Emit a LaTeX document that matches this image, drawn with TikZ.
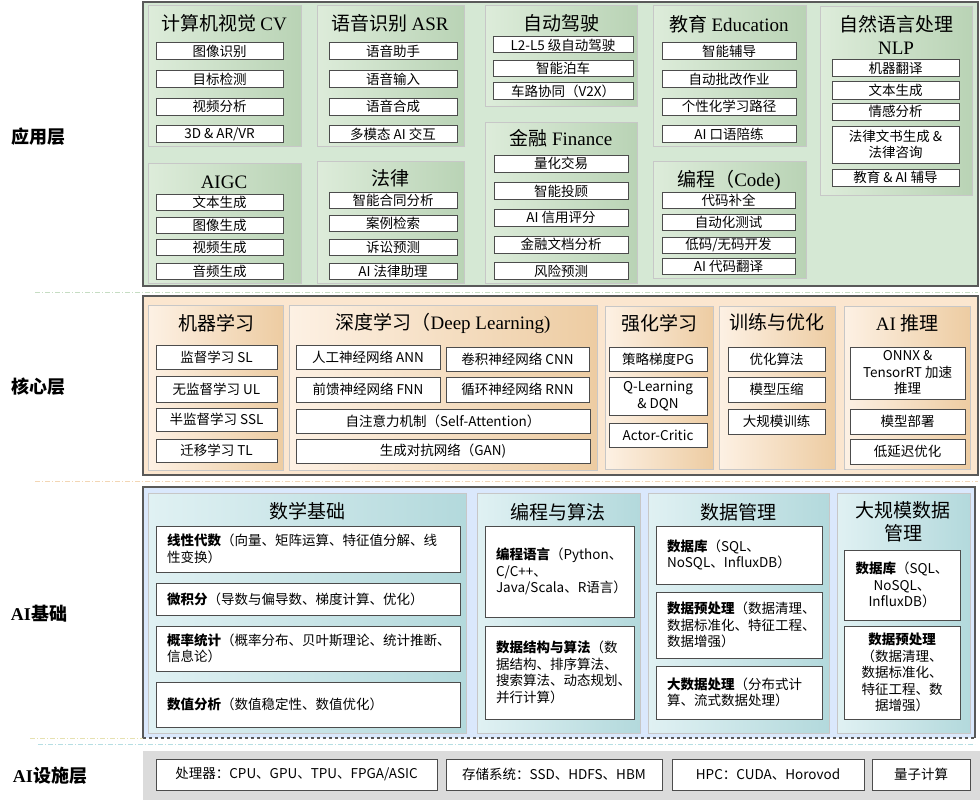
\documentclass[tikz,border=0pt]{standalone}
\usepackage{fontspec}
\setmainfont{Noto Sans CJK SC}
\newfontfamily\serifpart{Liberation Serif}
\newcommand\boxfont{\fontsize{13.5}{16.5}\selectfont}
\newcommand\grpfont{\fontsize{19}{23}\selectfont}
\newcommand\tagfont{\bfseries\fontsize{18}{20}\selectfont}
\definecolor{appbg}{HTML}{D5E8D4}
\definecolor{appL}{HTML}{DDECDA}
\definecolor{appR}{HTML}{B9D3B5}
\definecolor{corebg}{HTML}{FBE6CF}
\definecolor{coreL}{HTML}{FDF1E4}
\definecolor{coreR}{HTML}{EDCCA2}
\definecolor{fndbg}{HTML}{DAE8FC}
\definecolor{fndL}{HTML}{E0F1F3}
\definecolor{fndR}{HTML}{B3D9DC}
\definecolor{infrabg}{HTML}{DBDBDB}
\definecolor{appsep}{HTML}{C6DDC3}
\definecolor{coresep}{HTML}{F3D6B4}
\definecolor{fndsep}{HTML}{E6E1B0}
\definecolor{infsep}{HTML}{B5DEE3}
\begin{document}
\begin{tikzpicture}[x=1pt, y=-1pt,
  layer/.style={draw=black!65, line width=1.2pt},
  appgrp/.style={draw=black!22, line width=1pt, left color=appL, right color=appR},
  coregrp/.style={draw=black!22, line width=1pt, left color=coreL, right color=coreR},
  fndgrp/.style={draw=black!22, line width=1pt, left color=fndL, right color=fndR},
  item/.style={draw=black!70, fill=white, line width=1pt, inner sep=1pt, align=center, font=\boxfont},
  fnditem/.style={item, align=left, inner xsep=11pt, inner ysep=1pt},
  grptitle/.style={font=\grpfont, align=center},
  tag/.style={font=\tagfont},
  sepline/.style={line width=1pt, dash pattern=on 5pt off 2pt on 1pt off 2pt}]

\useasboundingbox (0,0) rectangle (980,800);

% separators between the layers
\draw[sepline, draw=appsep] (35,292) -- (978,292);
\draw[sepline, draw=coresep] (35,481.5) -- (978,481.5);
\draw[sepline, draw=fndsep] (30,738) -- (143,738);
\draw[sepline, draw=infsep] (38,744) -- (975,744);

% application layer
\draw[layer, fill=appbg] (143,2) rectangle (978,286);
\node[tag] (app) at (39,137) {应用层};

\draw[appgrp] (148,6) rectangle (301,146);
\node[grptitle] (cv) at (224,23) {计算机视觉 {\serifpart CV}};
\foreach \y/\t [count=\i] in {51.5/图像识别, 79/目标检测, 106.5/视频分析, 134/{3D \& AR/VR}}
  \node[item, minimum width=127, minimum height=17] (cv\i) at (219.5,\y) {\t};

\draw[appgrp] (317,6) rectangle (464,146);
\node[grptitle] (asr) at (390,23) {语音识别 {\serifpart ASR}};
\foreach \y/\t [count=\i] in {51.5/语音助手, 79/语音输入, 106.5/语音合成, 134/多模态 AI 交互}
  \node[item, minimum width=128, minimum height=17] (asr\i) at (393,\y) {\t};

\draw[appgrp] (148,163) rectangle (301,283);
\node[grptitle] (aigc) at (224,182) {\serifpart AIGC};
\foreach \y/\t [count=\i] in {202/文本生成, 225/图像生成, 247/视频生成, 271/音频生成}
  \node[item, minimum width=127, minimum height=16] (aigc\i) at (219.5,\y) {\t};

\draw[appgrp] (317,161) rectangle (464,283);
\node[grptitle] (law) at (390,178) {法律};
\foreach \y/\t [count=\i] in {200/智能合同分析, 223/案例检索, 247/诉讼预测, 271/AI 法律助理}
  \node[item, minimum width=128, minimum height=16] (law\i) at (393,\y) {\t};

\draw[appgrp] (485,6) rectangle (637,106);
\node[grptitle] (drive) at (561,23) {自动驾驶};
\foreach \y/\t [count=\i] in {45/L2-L5 级自动驾驶, 68.5/智能泊车, 91/车路协同（V2X）}
  \node[item, minimum width=140, minimum height=16] (drive\i) at (563,\y) {\t};

\draw[appgrp] (485,122) rectangle (637,283);
\node[grptitle] (fin) at (561,138) {金融 {\serifpart Finance}};
\foreach \y/\t [count=\i] in {163.5/量化交易, 191/智能投顾, 217.5/AI 信用评分, 244.5/金融文档分析, 271/风险预测}
  \node[item, minimum width=134, minimum height=17] (fin\i) at (561,\y) {\t};

\draw[appgrp] (653,6) rectangle (806,146);
\node[grptitle] (edu) at (729,24) {教育 {\serifpart Education}};
\foreach \y/\t [count=\i] in {51.5/智能辅导, 79/自动批改作业, 106.5/个性化学习路径, 134/AI 口语陪练}
  \node[item, minimum width=134, minimum height=17] (edu\i) at (729,\y) {\t};

\draw[appgrp] (653,161) rectangle (806,278);
\node[grptitle] (code) at (729,180) {编程（{\serifpart Code)}};
\foreach \y/\t [count=\i] in {200/代码补全, 222.5/自动化测试, 245/{低码/无码开发}, 266.5/AI 代码翻译}
  \node[item, minimum width=133, minimum height=16] (code\i) at (728.5,\y) {\t};

\draw[appgrp] (820,7) rectangle (972,195);
\node[grptitle] (nlp) at (896,35) {自然语言处理\\{\serifpart NLP}};
\foreach \y/\h/\t [count=\i] in {68.5/17/机器翻译, 90.5/17/文本生成, 111.5/17/情感分析,
  144.5/37/{法律文书生成 \&\\法律咨询}, 177.5/17/教育 \& AI 辅导}
  \node[item, minimum width=127, minimum height=\h] (nlp\i) at (895.5,\y) {\t};

% core layer
\draw[layer, fill=corebg] (143,296) rectangle (978,475);
\node[tag] (core) at (38,387) {核心层};

\draw[coregrp] (148,305) rectangle (283,470);
\node[grptitle] (ml) at (216,323) {机器学习};
\foreach \y/\h/\t [count=\i] in {357/24/监督学习 SL, 389/26/无监督学习 UL, 419.5/23/半监督学习 SSL, 450.5/23/迁移学习 TL}
  \node[item, minimum width=121, minimum height=\h] (ml\i) at (216.5,\y) {\t};

\draw[coregrp] (289,305) rectangle (597,470);
\node[grptitle] (dl) at (443,323) {深度学习（{\serifpart Deep Learning)}};
\node[item, minimum width=144, minimum height=24] (ann) at (368,357) {人工神经网络 ANN};
\node[item, minimum width=143, minimum height=24] (cnn) at (517.5,359) {卷积神经网络 CNN};
\node[item, minimum width=144, minimum height=25] (fnn) at (368,389.5) {前馈神经网络 FNN};
\node[item, minimum width=143, minimum height=25] (rnn) at (517.5,389.5) {循环神经网络 RNN};
\node[item, minimum width=294, minimum height=24] (attn) at (443,421) {自注意力机制（Self-Attention）};
\node[item, minimum width=294, minimum height=24] (gan) at (443,451) {生成对抗网络（GAN)};

\draw[coregrp] (605,306) rectangle (713,469);
\node[grptitle] (rl) at (659,323) {强化学习};
\foreach \y/\h/\t [count=\i] in {359/24/策略梯度PG, 396/38/{Q-Learning\\\& DQN}, 435/24/Actor-Critic}
  \node[item, minimum width=98, minimum height=\h] (rl\i) at (658,\y) {\t};

\draw[coregrp] (719,306) rectangle (835,469);
\node[grptitle] (train) at (777,322) {训练与优化};
\foreach \y/\h/\t [count=\i] in {359/24/优化算法, 389.5/25/模型压缩, 421.5/25/大规模训练}
  \node[item, minimum width=97, minimum height=\h] (train\i) at (776.5,\y) {\t};

\draw[coregrp] (844,306) rectangle (970,469);
\node[grptitle] (infer) at (907,323) {{\serifpart AI} 推理};
\foreach \y/\h/\t [count=\i] in {373/52/{ONNX \&\\TensorRT 加速\\推理}, 421.5/25/模型部署, 451.5/25/低延迟优化}
  \node[item, minimum width=115, minimum height=\h] (infer\i) at (907.5,\y) {\t};

% foundation layer
\fill[fndbg] (143,487) rectangle (975,738);
\draw[layer] (143,738) -- (143,487) -- (975,487) -- (975,738);
\draw[layer, dashed] (143,738) -- (975,738);
\node[tag] (fnd) at (39,614) {{\serifpart AI}基础};

\draw[fndgrp] (148,493) rectangle (466,733);
\node[grptitle] (math) at (307,511) {数学基础};
\foreach \y/\h/\t [count=\i] in {549/46/{\textbf{线性代数}（向量、矩阵运算、特征值分解、线\\性变换）},
  599/32/{\textbf{微积分}（导数与偏导数、梯度计算、优化）},
  648.5/45/{\textbf{概率统计}（概率分布、贝叶斯理论、统计推断、\\信息论）},
  704.5/45/{\textbf{数值分析}（数值稳定性、数值优化）}}
  \node[fnditem, text width=282, minimum height=\h] (math\i) at (308,\y) {\t};

\draw[fndgrp] (477,493) rectangle (640,733);
\node[grptitle] (algo) at (558,512) {编程与算法};
\foreach \y/\h/\t [count=\i] in {571.5/91/{\textbf{编程语言}（Python、\\C/C++、\\Java/Scala、R语言）},
  672.5/93/{\textbf{数据结构与算法}（数\\据结构、排序算法、\\搜索算法、动态规划、\\并行计算）}}
  \node[fnditem, text width=127, minimum height=\h] (algo\i) at (559.5,\y) {\t};

\draw[fndgrp] (648,493) rectangle (829,733);
\node[grptitle] (data) at (738,512) {数据管理};
\foreach \y/\h/\t [count=\i] in {555/58/{\textbf{数据库}（SQL、\\NoSQL、InfluxDB）},
  625/66/{\textbf{数据预处理}（数据清理、\\数据标准化、特征工程、\\数据增强）},
  692.5/53/{\textbf{大数据处理}（分布式计\\算、流式数据处理）}}
  \node[fnditem, text width=144, minimum height=\h] (data\i) at (739,\y) {\t};

\draw[fndgrp] (837,493) rectangle (970,733);
\node[grptitle] (bigdata) at (903,522) {大规模数据\\管理};
\foreach \y/\h/\t [count=\i] in {585/70/{\textbf{数据库}（SQL、\\NoSQL、\\InfluxDB）},
  672.5/93/{\textbf{数据预处理}\\（数据清理、\\数据标准化、\\特征工程、数\\据增强）}}
  \node[item, minimum width=116, minimum height=\h] (bigdata\i) at (902,\y) {\t};

% infrastructure layer
\fill[infrabg] (143,751) rectangle (980,800);
\node[tag] (infra) at (50,776) {{\serifpart AI}设施层};
\foreach \x/\w/\t [count=\i] in {296.5/281/{处理器：CPU、GPU、TPU、FPGA/ASIC}, 554/216/存储系统：SSD、HDFS、HBM,
  768/192/HPC：CUDA、Horovod, 921/98/量子计算}
  \node[item, minimum width=\w, minimum height=31] (infra\i) at (\x,774.5) {\t};
\end{tikzpicture}
\end{document}
